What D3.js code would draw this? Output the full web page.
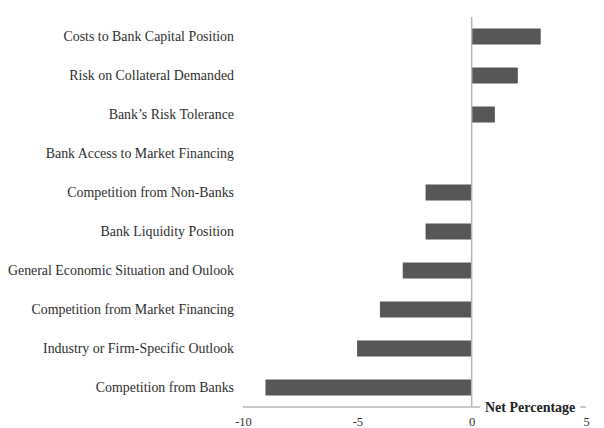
<!DOCTYPE html>
<html>
<head>
<meta charset="utf-8">
<script src="https://cdn.jsdelivr.net/npm/d3@7"></script>
<style>
  body { margin: 0; background: #fff; }
  text { font-family: "Liberation Serif", "DejaVu Serif", serif; fill: #333; }
</style>
</head>
<body>
<svg id="chart" width="604" height="428"></svg>
<script>
// Categories, top to bottom
var categories = [
  "Costs to Bank Capital Position",
  "Risk on Collateral Demanded",
  "Bank\u2019s Risk Tolerance",
  "Bank Access to Market Financing",
  "Competition from Non-Banks",
  "Bank Liquidity Position",
  "General Economic Situation and Oulook",
  "Competition from Market Financing",
  "Industry or Firm-Specific Outlook",
  "Competition from Banks"
];

// Net percentage values
var values = [3, 2, 1, 0, -2, -2, -3, -4, -5, -9];

// X ticks
var xTicks = [-10, -5, 0, 5];

var axisTitle = "Net Percentage";

var svg = d3.select("#chart");

var x = d3.scaleLinear().domain([-10, 5]).range([243, 586]);
var y = d3.scaleBand().domain(categories).range([17, 407]).paddingInner(0.61).paddingOuter(0.305);

// Bars
svg.append("g").attr("class", "bars")
  .selectAll("rect")
  .data(values)
  .enter().append("rect")
    .attr("x", function(d) { return x(Math.min(0, d)); })
    .attr("y", function(d, i) { return y(categories[i]); })
    .attr("width", function(d) { return Math.abs(x(d) - x(0)); })
    .attr("height", y.bandwidth())
    .style("fill", "#575757")
    .style("stroke", "#4a4a4a")
    .style("stroke-width", 0.6);

// Category labels (right-aligned at the left of the plot)
svg.append("g").attr("class", "labels")
  .selectAll("text")
  .data(categories)
  .enter().append("text")
    .attr("x", 234)
    .attr("y", function(d) { return y(d) + y.bandwidth() / 2; })
    .attr("dy", "0.35em")
    .style("text-anchor", "end")
    .style("font-size", "13.9px")
    .style("fill", "#2e2e2e")
    .text(function(d) { return d; });

// Horizontal axis line
svg.append("line")
  .attr("x1", x(-10)).attr("x2", x(5))
  .attr("y1", 407).attr("y2", 407)
  .style("stroke", "#b5b5b5").style("stroke-width", 1.5);

// Zero line
svg.append("line")
  .attr("x1", x(0)).attr("x2", x(0))
  .attr("y1", 17).attr("y2", 407)
  .style("stroke", "#b5b5b5").style("stroke-width", 1.5);

// Tick labels
var xAxis = d3.axisBottom(x).tickValues(xTicks).tickSize(0).tickPadding(0)
  .tickFormat(function(d) { return String(d); });
var gx = svg.append("g")
  .attr("transform", "translate(0,417)")
  .call(xAxis);
gx.select(".domain").remove();
gx.selectAll("text")
  .style("font-family", "\"Liberation Serif\", serif")
  .style("font-size", "12.5px")
  .style("fill", "#333");

// Axis title over the line with white background
var title = svg.append("g").attr("transform", "translate(480,407)");
var tBg = title.append("rect").style("fill", "#fff");
var tText = title.append("text")
  .attr("x", 5)
  .attr("dy", "0.35em")
  .style("font-size", "14px")
  .style("font-weight", "bold")
  .style("fill", "#222")
  .text(axisTitle);
var bb = tText.node().getBBox();
tBg.attr("x", 0).attr("y", -4).attr("width", bb.width + 10).attr("height", 8);
</script>
</body>
</html>
